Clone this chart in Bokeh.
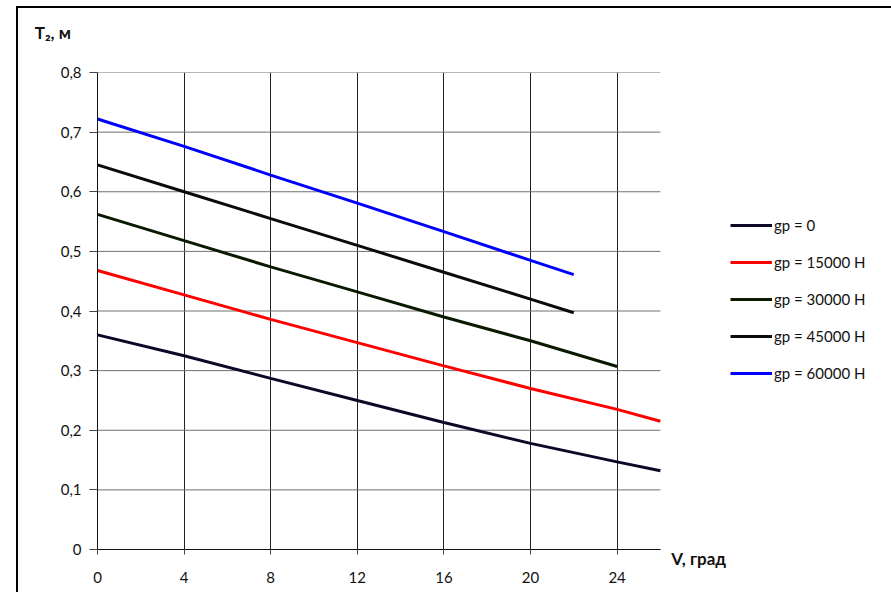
from bokeh.plotting import figure
from bokeh.models import Legend, LegendItem, Label, Range1d, FixedTicker
from bokeh.embed import file_html
from bokeh.resources import INLINE

# data
v = [0, 4, 8, 12, 16, 20, 24, 26]
t_gp0 = [0.360, 0.325, 0.287, 0.250, 0.213, 0.178, 0.147, 0.132]
t_gp15 = [0.468, 0.427, 0.386, 0.347, 0.308, 0.270, 0.235, 0.215]
v30 = [0, 4, 8, 12, 16, 20, 24]
t_gp30 = [0.562, 0.518, 0.474, 0.432, 0.390, 0.350, 0.307]
v45 = [0, 4, 8, 12, 16, 20, 22]
t_gp45 = [0.645, 0.600, 0.555, 0.510, 0.465, 0.420, 0.397]
v60 = [0, 4, 8, 12, 16, 20, 22]
t_gp60 = [0.722, 0.676, 0.628, 0.581, 0.533, 0.485, 0.461]

series_names = ["gp = 0", "gp = 15000 Н", "gp = 30000 Н", "gp = 45000 Н", "gp = 60000 Н"]
series_colors = ["#0a0a28", "#ff0000", "#0a1a00", "#0d0a0d", "#0000ff"]

x_min, x_max = 0, 26
x_ticks = [0, 4, 8, 12, 16, 20, 24]
y_ticks = [0, 0.1, 0.2, 0.3, 0.4, 0.5, 0.6, 0.7, 0.8]
y_tick_labels = ["0", "0,1", "0,2", "0,3", "0,4", "0,5", "0,6", "0,7", "0,8"]
x_label = "V, град"
y_label = "T₂, м"

FONT = "Lato"

# the frame extends to the right edge so the legend can sit inside it;
# the axis and grid are bounded to 0..26
p = figure(width=877, height=587, output_backend="svg", toolbar_location=None,
           x_range=Range1d(0, 36.86), y_range=Range1d(0, 0.8),
           min_border_left=79, min_border_right=0, min_border_top=64, min_border_bottom=46)
p.margin = (6, 0, 0, 16)
p.styles = {"border-style": "solid none none solid", "border-width": "2px 0px 0px 2px",
            "border-color": "black"}
p.outline_line_color = None
p.background_fill_color = "white"
p.border_fill_color = "white"

# horizontal grid lines, limited to the plotted range
p.ygrid.visible = False
p.segment(x0=[x_min] * len(y_ticks), x1=[x_max] * len(y_ticks), y0=y_ticks, y1=y_ticks,
          line_color="#707070", line_width=1)

xs_all = [v, v, v30, v45, v60]
ys_all = [t_gp0, t_gp15, t_gp30, t_gp45, t_gp60]
renderers = []
for xs, ys, c in zip(xs_all, ys_all, series_colors):
    r = p.line(xs, ys, line_color=c, line_width=3)
    renderers.append(r)

# vertical grid
p.xgrid.ticker = FixedTicker(ticks=x_ticks)
p.xgrid.grid_line_color = "#222222"
p.xgrid.grid_line_width = 1

# axes
p.xaxis.ticker = FixedTicker(ticks=x_ticks)
p.xaxis.bounds = (x_min, x_max)
p.yaxis.ticker = FixedTicker(ticks=y_ticks)
p.yaxis.major_label_overrides = {t: l for t, l in zip(y_ticks, y_tick_labels)}
for ax in (p.xaxis[0], p.yaxis[0]):
    ax.axis_line_color = "#111111"
    ax.axis_line_width = 1
    ax.major_tick_line_color = "#444444"
    ax.minor_tick_line_color = None
    ax.major_tick_in = 0
    ax.major_label_text_font = FONT
    ax.major_label_text_font_size = "15px"
    ax.major_label_text_color = "#111111"
p.yaxis.major_tick_out = 8
p.yaxis.major_label_standoff = 8
p.xaxis.major_tick_out = 5
p.xaxis.major_label_standoff = 17

# axis titles (placed in a side panel so they are not clipped to the frame)
p.add_layout(Label(x=-2.9, y=0.867, text=y_label, text_font=FONT, text_font_style="bold",
                   text_font_size="17px", text_baseline="middle", text_align="left", text_color="#111111"), "above")
p.add_layout(Label(x=26.5, y=0, y_offset=-9, text=x_label, text_font=FONT, text_font_style="bold",
                   text_font_size="17px", text_baseline="middle", text_align="left", text_color="#111111"), "above")

# legend
items = [LegendItem(label=n, renderers=[r]) for n, r in zip(series_names, renderers)]
legend = Legend(items=items, location=(633, 166), orientation="vertical")
legend.glyph_width = 42
legend.glyph_height = 20
legend.label_height = 20
legend.spacing = 17
legend.padding = 0
legend.margin = 0
legend.label_standoff = 2
legend.border_line_color = None
legend.background_fill_alpha = 0
legend.label_text_font = FONT
legend.label_text_font_size = "15px"
legend.label_text_color = "#111111"
p.add_layout(legend, "center")

open("out.html", "w").write(file_html(p, INLINE))
